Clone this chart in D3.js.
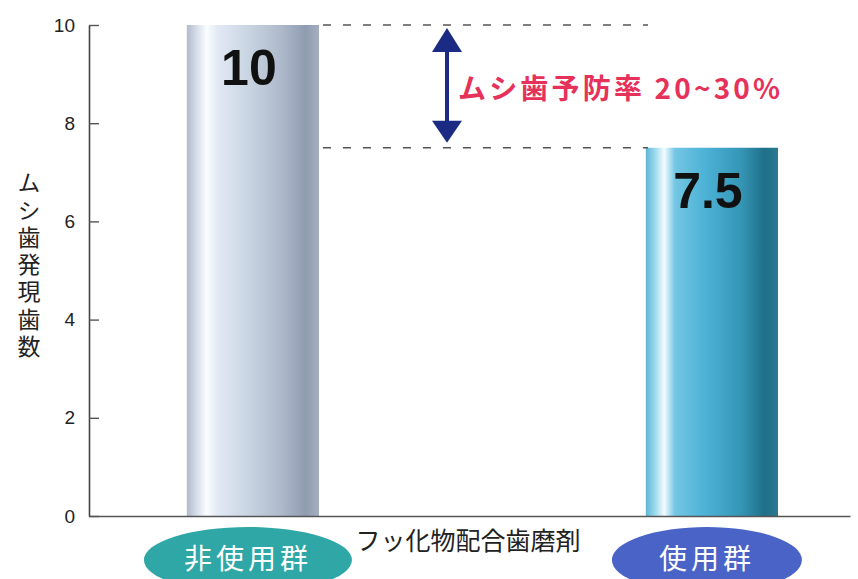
<!DOCTYPE html>
<html lang="ja">
<head>
<meta charset="utf-8">
<script src="https://cdn.jsdelivr.net/npm/d3@7"></script>
<style>
  html, body { margin: 0; padding: 0; background: #ffffff; }
  svg { display: block; }
  text { font-family: "Liberation Sans", Arial, "Noto Sans CJK JP", sans-serif; }
  .jp { font-family: "Noto Sans CJK JP", "Noto Sans", sans-serif; }
</style>
</head>
<body>
<svg id="chart" width="858" height="579"></svg>
<script>
// 歯磨剤の使用有無によるムシ歯発現歯数
const groups = ["非使用群", "使用群"];
const counts = [10, 7.5];
const yTicks = [0, 2, 4, 6, 8, 10];
const yTitle = "ムシ歯発現歯数";
const xTitle = "フッ化物配合歯磨剤";
const noteText = "ムシ歯予防率 20~30%";

const svg = d3.select("#chart");

const y = d3.scaleLinear().domain([0, 10]).range([516, 25]);
const x = d3.scaleBand()
  .domain(groups)
  .range([89, 850])
  .paddingInner(0.712)
  .paddingOuter(0.185)
  .align(0.576);

// bar shading: a cylinder-like horizontal gradient per group
const barStops = [
  [[0, "#b2bacb"], [0.07, "#d4dce8"], [0.15, "#fbfdff"], [0.23, "#e2eaf4"],
   [0.45, "#cbd6e4"], [0.72, "#adb9ca"], [0.9, "#8f9bb0"], [1, "#a6afc0"]],
  [[0, "#5cb6d6"], [0.07, "#9cdaee"], [0.14, "#f2fcff"], [0.22, "#74c6e4"],
   [0.45, "#4cb2d6"], [0.72, "#3596b6"], [0.9, "#1f6f88"], [1, "#2a7a92"]]
];
const ellipseFill = ["#2fa7a6", "#4a63c6"];

const defs = svg.append("defs");
barStops.forEach((stops, i) => {
  const g = defs.append("linearGradient")
    .attr("id", "barGrad" + i)
    .attr("x1", "0%").attr("x2", "100%").attr("y1", "0%").attr("y2", "0%");
  stops.forEach(([o, c]) => g.append("stop").attr("offset", o).attr("stop-color", c));
});

// bars
svg.append("g").selectAll("rect")
  .data(groups)
  .join("rect")
  .attr("x", d => x(d))
  .attr("width", x.bandwidth())
  .attr("y", (d, i) => y(counts[i]))
  .attr("height", (d, i) => y(0) - y(counts[i]))
  .attr("fill", (d, i) => `url(#barGrad${i})`);

// value labels inside bar tops
svg.append("g").selectAll("text")
  .data(groups)
  .join("text")
  .attr("x", d => x(d) + x.bandwidth() / 2 - 4)
  .attr("y", (d, i) => y(counts[i]) + 60)
  .attr("text-anchor", "middle")
  .attr("font-size", 50)
  .attr("font-weight", "bold")
  .attr("fill", "#111")
  .text((d, i) => String(counts[i]));

// y axis: ticks pointing into the plot
const yAxis = svg.append("g")
  .attr("transform", `translate(${x.range()[0]},0)`)
  .call(d3.axisLeft(y).tickValues(yTicks).tickSizeInner(-10).tickSizeOuter(0).tickPadding(14));
yAxis.select(".domain").attr("stroke", "#444").attr("stroke-width", 1.6);
yAxis.selectAll(".tick line").attr("stroke", "#555").attr("stroke-width", 1.4);
yAxis.selectAll(".tick text")
  .attr("font-size", 19)
  .attr("fill", "#222")
  .style("font-family", "'Liberation Sans', Arial, sans-serif");

// x axis baseline
const xAxis = svg.append("g")
  .attr("transform", `translate(0,${y(0)})`)
  .call(d3.axisBottom(x).tickSize(0).tickSizeOuter(0).tickFormat(""));
xAxis.select(".domain").attr("stroke", "#555").attr("stroke-width", 1.6);

// y axis title, set in vertical writing mode
svg.append("text")
  .attr("class", "jp")
  .attr("x", 29)
  .attr("y", 171)
  .attr("font-size", 23)
  .attr("fill", "#222")
  .style("writing-mode", "vertical-rl")
  .style("text-orientation", "upright")
  .attr("letter-spacing", 4.3)
  .text(yTitle);

// x axis title
svg.append("text")
  .attr("class", "jp")
  .attr("x", 468)
  .attr("y", 550)
  .attr("text-anchor", "middle")
  .attr("font-size", 25)
  .attr("fill", "#222")
  .text(xTitle);

// group labels in ovals
const labels = svg.append("g").selectAll("g")
  .data(groups)
  .join("g")
  .attr("transform", d => `translate(${x(d) + x.bandwidth() / 2 - 5},560)`);
labels.append("ellipse")
  .attr("rx", (d, i) => i === 0 ? 104 : 95)
  .attr("ry", 33)
  .attr("fill", (d, i) => ellipseFill[i]);
labels.append("text")
  .attr("class", "jp")
  .attr("y", 9)
  .attr("text-anchor", "middle")
  .attr("font-size", 28)
  .attr("letter-spacing", 4)
  .attr("fill", "#ffffff")
  .text(d => d);

// difference annotation: dashed guides at both bar heights
const guideX0 = x(groups[0]) + x.bandwidth() + 4;
const guideX1 = 648;
svg.append("g").selectAll("line")
  .data(counts)
  .join("line")
  .attr("x1", guideX0)
  .attr("x2", guideX1)
  .attr("y1", d => y(d))
  .attr("y2", d => y(d))
  .attr("stroke", "#555")
  .attr("stroke-width", 1.4)
  .attr("stroke-dasharray", "8 12");

// double-headed arrow between the guides
const ax = 447;
const aTop = y(counts[0]) + 3, aBot = y(counts[1]) - 5;
const arrow = svg.append("g").attr("fill", "#1b2a82").attr("stroke", "none");
arrow.append("rect")
  .attr("x", ax - 2).attr("width", 4)
  .attr("y", aTop + 20).attr("height", aBot - aTop - 40);
arrow.append("path")
  .attr("d", `M${ax},${aTop} L${ax - 15},${aTop + 24} L${ax + 15},${aTop + 24} Z`);
arrow.append("path")
  .attr("d", `M${ax},${aBot} L${ax - 15},${aBot - 22} L${ax + 15},${aBot - 22} Z`);

svg.append("text")
  .attr("class", "jp")
  .attr("x", 458)
  .attr("y", 99)
  .attr("font-size", 28)
  .attr("font-weight", "bold")
  .attr("fill", "#e6325a")
  .attr("textLength", 322)
  .attr("lengthAdjust", "spacing")
  .text(noteText);
</script>
</body>
</html>
